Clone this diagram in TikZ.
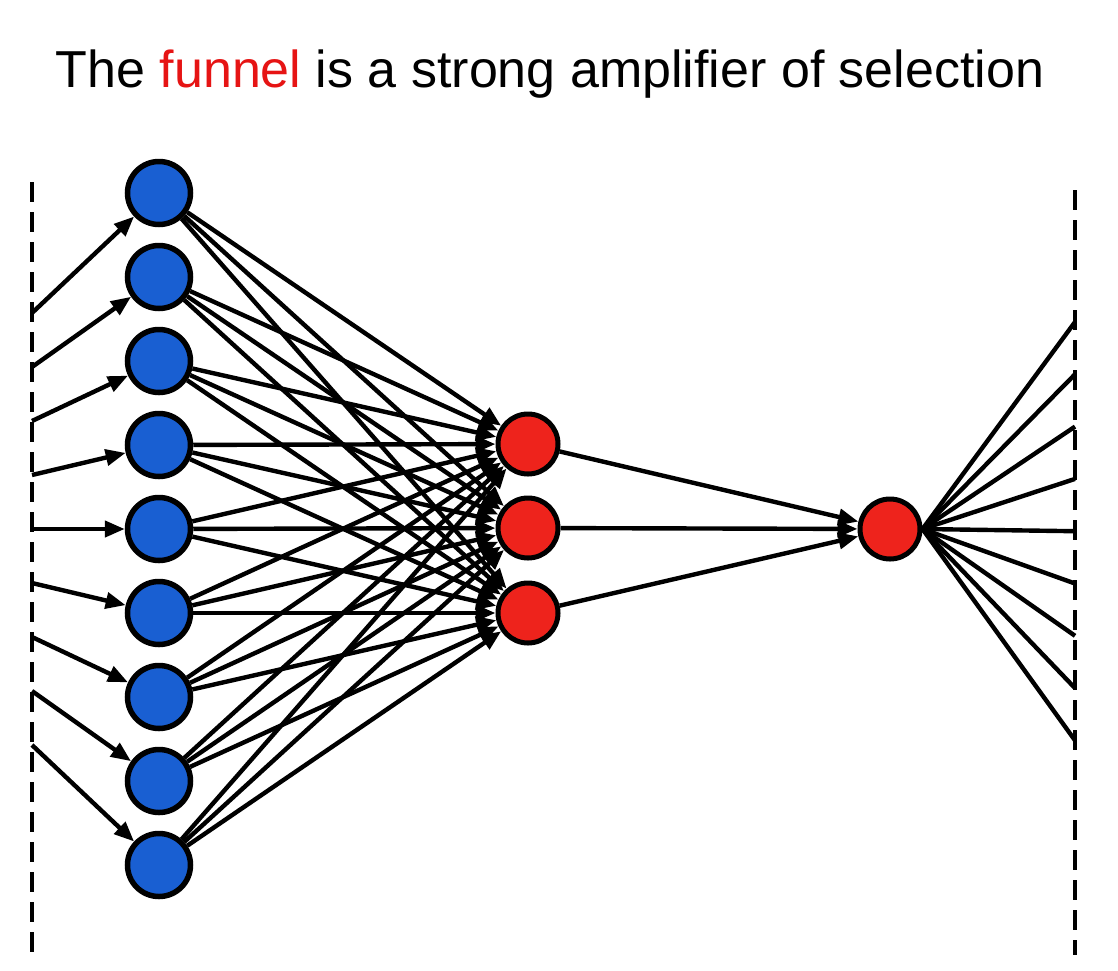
\documentclass[tikz,border=0pt]{standalone}
\usepackage{fontspec}
\setmainfont{Liberation Sans}
\usetikzlibrary{arrows.meta}
\definecolor{nodeblue}{RGB}{25,95,210}
\definecolor{nodered}{RGB}{238,35,28}
\definecolor{titlered}{RGB}{230,20,20}
\begin{document}
\begin{tikzpicture}[x=1pt,y=-1pt,
  bluenode/.style={circle, draw=black, line width=5.5pt, fill=nodeblue, minimum size=63pt, inner sep=0pt},
  rednode/.style={circle, draw=black, line width=5pt, fill=nodered, minimum size=60pt, inner sep=0pt},
  conn/.style={line width=4.4pt, -{Triangle[length=20pt,width=16pt]}},
  plainline/.style={line width=4.4pt},
  divider/.style={line width=4.6pt, dash pattern=on 20pt off 10pt},
  titletext/.style={font=\fontsize{52}{60}\selectfont, inner sep=0pt, anchor=base}]
\useasboundingbox (0,0) rectangle (1118,970);
\fill[white] (0,0) rectangle (1118,970);
\node[titletext] (title) at (550,87) {The \textcolor{titlered}{funnel} is a strong amplifier of selection};
% dividers
\coordinate (ltop) at (32,182);
\coordinate (lbot) at (32,955);
\coordinate (rtop) at (1075,190);
\coordinate (rbot) at (1075,955);
\draw[divider] (ltop) -- (lbot);
\draw[divider] (rtop) -- (rbot);
% nodes
\foreach \i in {1,...,9} {
  \node[bluenode] (b\i) at (159,{193+84*(\i-1)}) {};
  \coordinate (l\i) at (32,{313+54*(\i-1)});
  \coordinate (r\i) at (1075,{322+52.3*(\i-1)});
}
\node[rednode] (m1) at (528,444) {};
\node[rednode] (m2) at (528,528) {};
\node[rednode] (m3) at (528,613) {};
\node[rednode] (f) at (890,529) {};
% connectors
\foreach \i in {1,...,9} {
  \draw[conn] (l\i) -- (b\i);
  \foreach \j in {1,2,3} {
    \draw[conn] (b\i) -- (m\j);
  }
  \draw[plainline] (f.east) -- (r\i);
}
\foreach \j in {1,2,3} {
  \draw[conn] (m\j) -- (f);
}
\end{tikzpicture}
\end{document}
